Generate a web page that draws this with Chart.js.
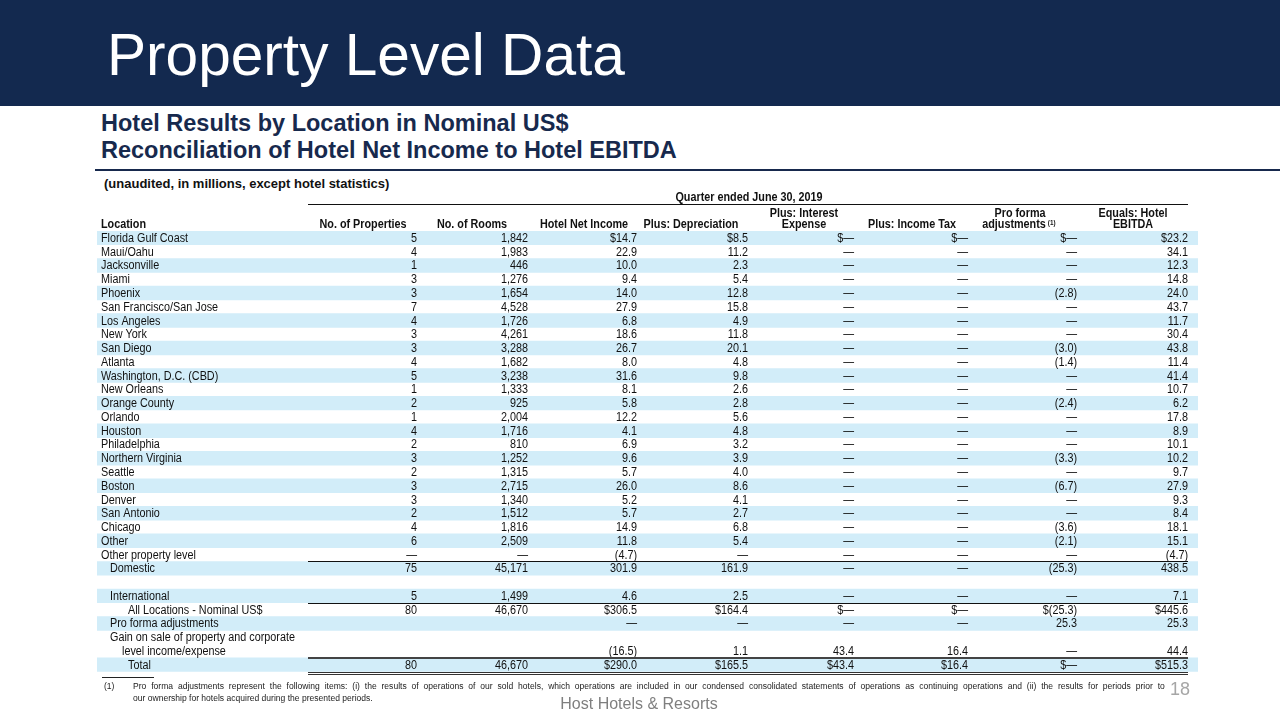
<!DOCTYPE html>
<html>
<head>
<meta charset="utf-8">
<script src="https://cdn.jsdelivr.net/npm/chart.js@4.4.0/dist/chart.umd.min.js"></script>
<style>
  body { margin: 0; width: 1280px; height: 720px; overflow: hidden; background: #fff; font-family: 'Liberation Sans', Arial, sans-serif; }
  .abs { position: absolute; white-space: nowrap; }
  #banner { position: absolute; left: 0; top: 0; width: 1280px; height: 106px; background: #13294f; }
  #title { left: 107px; top: 26px; font-size: 58.6px; line-height: 58.6px; color: #fff; }
  .sub { left: 101px; font-size: 23.5px; line-height: 23.5px; font-weight: bold; color: #17294d; }
  #rule { position: absolute; left: 95px; top: 169px; width: 1185px; height: 2px; background: #17294d; }
  #unaudited { left: 104px; top: 177px; font-size: 13px; line-height: 13px; font-weight: bold; color: #111; }
  canvas { position: absolute; left: 0; top: 0; }
  .foot { left: 133px; font-size: 9.6px; line-height: 9.6px; color: #222; transform: scaleX(0.89); transform-origin: left top; }
  #footrule { position: absolute; left: 102px; top: 677px; width: 52px; height: 1px; background: #222; }
  #page { left: 1170px; top: 680px; font-size: 18px; line-height: 18px; color: #a6a6a6; }
  #brand { left: 0; width: 1278px; text-align: center; top: 696px; font-size: 16px; line-height: 16px; color: #7f7f7f; }
</style>
</head>
<body>
<div id="banner"></div>
<div id="title" class="abs">Property Level Data</div>
<div class="abs sub" style="top:112px">Hotel Results by Location in Nominal US$</div>
<div class="abs sub" style="top:139px">Reconciliation of Hotel Net Income to Hotel EBITDA</div>
<div id="rule"></div>
<div id="unaudited" class="abs">(unaudited, in millions, except hotel statistics)</div>
<canvas id="table" width="1280" height="720"></canvas>
<div id="footrule"></div>
<div class="abs foot" style="left:104px;top:681px">(1)</div>
<div id="foot1" class="abs foot" style="top:681px">Pro forma adjustments represent the following items: (i) the results of operations of our sold hotels, which operations are included in our condensed consolidated statements of operations as continuing operations and (ii) the results for periods prior to</div>
<div class="abs foot" style="top:693px">our ownership for hotels acquired during the presented periods.</div>
<div id="page" class="abs">18</div>
<div id="brand" class="abs">Host Hotels &amp; Resorts</div>

<script>
// Table data, one row per line of the table (null = empty cell, 0 = dash)
const rowLabels = [
  'Florida Gulf Coast', 'Maui/Oahu', 'Jacksonville', 'Miami', 'Phoenix', 'San Francisco/San Jose',
  'Los Angeles', 'New York', 'San Diego', 'Atlanta', 'Washington, D.C. (CBD)', 'New Orleans',
  'Orange County', 'Orlando', 'Houston', 'Philadelphia', 'Northern Virginia', 'Seattle', 'Boston',
  'Denver', 'San Antonio', 'Chicago', 'Other', 'Other property level', 'Domestic', '',
  'International', 'All Locations - Nominal US$', 'Pro forma adjustments',
  'Gain on sale of property and corporate', 'level income/expense', 'Total'
];
const properties = [5, 4, 1, 3, 3, 7, 4, 3, 3, 4, 5, 1, 2, 1, 4, 2, 3, 2, 3, 3, 2, 4, 6, 0, 75, null, 5, 80, null, null, null, 80];
const rooms = [1842, 1983, 446, 1276, 1654, 4528, 1726, 4261, 3288, 1682, 3238, 1333, 925, 2004, 1716, 810, 1252, 1315, 2715, 1340, 1512, 1816, 2509, 0, 45171, null, 1499, 46670, null, null, null, 46670];
const netIncome = [14.7, 22.9, 10.0, 9.4, 14.0, 27.9, 6.8, 18.6, 26.7, 8.0, 31.6, 8.1, 5.8, 12.2, 4.1, 6.9, 9.6, 5.7, 26.0, 5.2, 5.7, 14.9, 11.8, -4.7, 301.9, null, 4.6, 306.5, 0, null, -16.5, 290.0];
const depreciation = [8.5, 11.2, 2.3, 5.4, 12.8, 15.8, 4.9, 11.8, 20.1, 4.8, 9.8, 2.6, 2.8, 5.6, 4.8, 3.2, 3.9, 4.0, 8.6, 4.1, 2.7, 6.8, 5.4, 0, 161.9, null, 2.5, 164.4, 0, null, 1.1, 165.5];
const interestExpense = [0, 0, 0, 0, 0, 0, 0, 0, 0, 0, 0, 0, 0, 0, 0, 0, 0, 0, 0, 0, 0, 0, 0, 0, 0, null, 0, 0, 0, null, 43.4, 43.4];
const incomeTax = [0, 0, 0, 0, 0, 0, 0, 0, 0, 0, 0, 0, 0, 0, 0, 0, 0, 0, 0, 0, 0, 0, 0, 0, 0, null, 0, 0, 0, null, 16.4, 16.4];
const proForma = [0, 0, 0, 0, -2.8, 0, 0, 0, -3.0, -1.4, 0, 0, -2.4, 0, 0, 0, -3.3, 0, -6.7, 0, 0, -3.6, -2.1, 0, -25.3, null, 0, -25.3, 25.3, null, 0, 0];
const hotelEbitda = [23.2, 34.1, 12.3, 14.8, 24.0, 43.7, 11.7, 30.4, 43.8, 11.4, 41.4, 10.7, 6.2, 17.8, 8.9, 10.1, 10.2, 9.7, 27.9, 9.3, 8.4, 18.1, 15.1, -4.7, 438.5, null, 7.1, 445.6, 25.3, null, 44.4, 515.3];
const columnTitles = [['No. of Properties'], ['No. of Rooms'], ['Hotel Net Income'], ['Plus: Depreciation'],
  ['Plus: Interest', 'Expense'], ['Plus: Income Tax'], ['Pro forma', 'adjustments'], ['Equals: Hotel', 'EBITDA']];
const periodTitle = 'Quarter ended June 30, 2019';
const dollarRows = [0, 27, 31];
const stripeRows = [0, 2, 4, 6, 8, 10, 12, 14, 16, 18, 20, 22, 24, 26, 28, 31];

// layout (x positions are in the x scale's units = page pixels)
const tableLeft = 97, tableRight = 1198, ruleLeft = 308, ruleRight = 1188;
const colRight = [417, 528, 637, 748, 854, 968, 1077, 1188];
const headCenter = [363, 472, 584, 691, 804, 912, 1020, 1133];
const rowIndent = {24: 9, 26: 9, 27: 27, 28: 9, 29: 9, 30: 21, 31: 27};
const rowTop = 231, rowH = 13.77;
const squeeze = 0.9;

const columns = [properties, rooms, netIncome, depreciation, interestExpense, incomeTax, proForma, hotelEbitda];

// stretch first footnote line so it ends where the reference's justified line ends
const foot1 = document.getElementById('foot1');
const spaces = foot1.textContent.split(' ').length - 1;
foot1.style.wordSpacing = ((1032 / 0.89 - foot1.offsetWidth) / spaces) + 'px';

function fmt(v, col, row) {
  if (v === null) return '';
  const money = col >= 2 && dollarRows.includes(row);
  const cur = money ? '$' : '';
  if (v === 0) return cur + '\u2014';
  let s;
  if (col < 2) s = Math.abs(v).toLocaleString('en-US');
  else s = Math.abs(v).toFixed(1);
  return v < 0 ? cur + '(' + s + ')' : cur + s;
}

function drawText(ctx, txt, x, y, align, font) {
  ctx.save();
  ctx.font = font;
  ctx.translate(x, y);
  ctx.scale(squeeze, 1);
  ctx.textAlign = align;
  ctx.fillText(txt, 0, 0);
  ctx.restore();
}

const tablePlugin = {
  id: 'tableText',
  afterDatasetsDraw(chart) {
    const { ctx, scales: { x, y } } = chart;
    const body = "12px 'Liberation Sans', Arial, sans-serif";
    const bold = "bold 12px 'Liberation Sans', Arial, sans-serif";
    ctx.save();
    ctx.fillStyle = '#111';
    ctx.textBaseline = 'alphabetic';

    // header
    drawText(ctx, periodTitle, x.getPixelForValue(749), 201, 'center', bold);
    drawText(ctx, 'Location', x.getPixelForValue(101), 228, 'left', bold);
    columnTitles.forEach((lines, c) => {
      const cx = x.getPixelForValue(headCenter[c]);
      lines.forEach((t, k) => {
        const by = lines.length === 1 ? 228 : 217 + k * 11;
        if (c === 6 && k === 1) {
          ctx.font = bold;
          const w = ctx.measureText(t).width * squeeze;
          drawText(ctx, t, cx - 6, by, 'center', bold);
          drawText(ctx, '(1)', cx - 6 + w / 2 + 2, by - 3, 'left', "bold 7px 'Liberation Sans', Arial, sans-serif");
        } else {
          drawText(ctx, t, cx, by, 'center', bold);
        }
      });
    });

    // body cells
    rowLabels.forEach((label, r) => {
      const by = y.getPixelForValue(r) + 4;
      drawText(ctx, label, x.getPixelForValue(101 + (rowIndent[r] || 0)), by, 'left', body);
      columns.forEach((col, c) => {
        const t = fmt(col[r], c, r);
        if (t) drawText(ctx, t, x.getPixelForValue(colRight[c]), by, 'right', body);
      });
    });

    // rules
    const edge = r => Math.round((y.getPixelForValue(r - 1) + y.getPixelForValue(r)) / 2);
    const x0 = x.getPixelForValue(ruleLeft), x1 = x.getPixelForValue(ruleRight);
    const hline = (yy, w, color) => {
      ctx.beginPath();
      ctx.strokeStyle = color;
      ctx.lineWidth = w;
      ctx.moveTo(x0, yy);
      ctx.lineTo(x1, yy);
      ctx.stroke();
    };
    hline(204.5, 1, '#111');
    hline(edge(24) + 0.5, 1, '#111');
    hline(edge(27) + 0.5, 1, '#111');
    hline(edge(31), 2, '#444');
    const bottom = Math.round(y.getPixelForValue(31) + rowH / 2);
    hline(bottom + 0.5, 1, '#333');
    hline(bottom + 2.5, 1, '#333');
    ctx.restore();
  }
};

const stripes = rowLabels.map((_, r) => stripeRows.includes(r) ? [tableLeft, tableRight] : null);

new Chart(document.getElementById('table'), {
  type: 'bar',
  data: {
    labels: rowLabels,
    datasets: [{
      data: stripes,
      backgroundColor: '#d2edf9',
      borderWidth: 0,
      barPercentage: 1,
      categoryPercentage: 1
    }]
  },
  options: {
    indexAxis: 'y',
    responsive: false,
    animation: false,
    devicePixelRatio: 1,
    layout: { padding: { left: tableLeft, right: 1280 - tableRight, top: rowTop, bottom: 720 - rowTop - rowLabels.length * rowH } },
    scales: {
      x: { type: 'linear', min: tableLeft, max: tableRight, display: false },
      y: { display: false }
    },
    plugins: { legend: { display: false }, tooltip: { enabled: false } }
  },
  plugins: [tablePlugin]
});
</script>
</body>
</html>
